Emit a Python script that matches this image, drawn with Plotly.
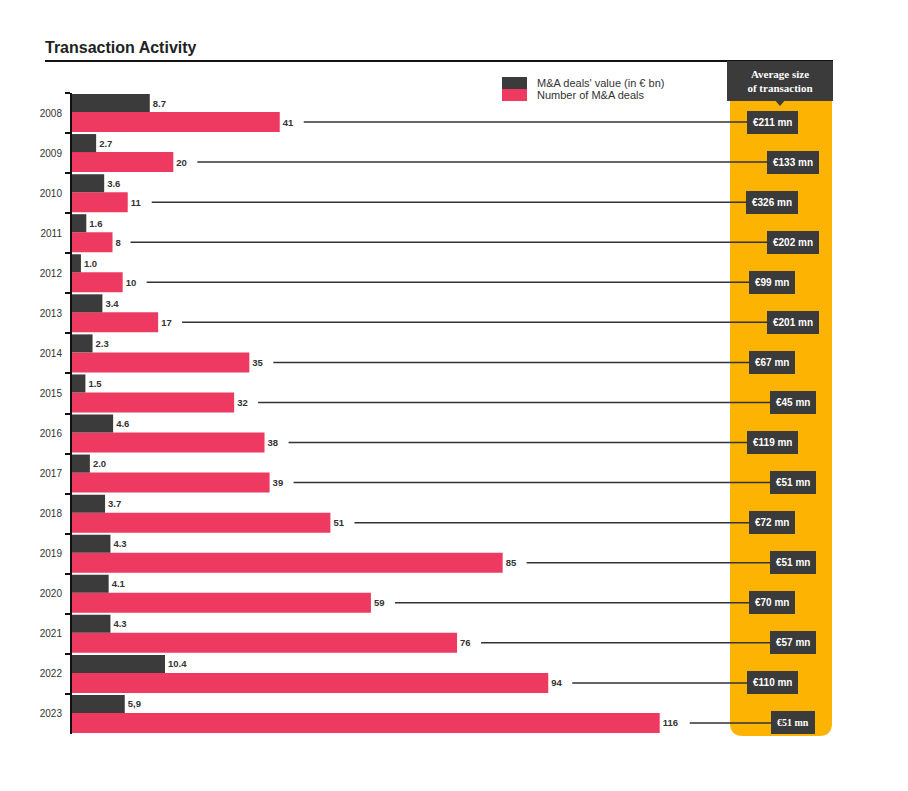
import plotly.graph_objects as go

years = [str(y) for y in range(2008, 2024)]
deal_value = [8.7, 2.7, 3.6, 1.6, 1.0, 3.4, 2.3, 1.5, 4.6, 2.0, 3.7, 4.3, 4.1, 4.3, 10.4, 5.9]
value_labels = ["8.7", "2.7", "3.6", "1.6", "1.0", "3.4", "2.3", "1.5",
                "4.6", "2.0", "3.7", "4.3", "4.1", "4.3", "10.4", "5,9"]
deal_count = [41, 20, 11, 8, 10, 17, 35, 32, 38, 39, 51, 85, 59, 76, 94, 116]
avg_size = ["€211 mn", "€133 mn", "€326 mn", "€202 mn", "€99 mn", "€201 mn",
            "€67 mn", "€45 mn", "€119 mn", "€51 mn", "€72 mn", "€51 mn",
            "€70 mn", "€57 mn", "€110 mn", "€51 mn"]

DARK = "#3b3b3b"
PINK = "#ee3a60"
ORANGE = "#fdb302"
TC = "#333333"

# page has an 8px body margin, so work in page pixels and shift
OFF = 8
W, H = 900, 783
L, T = 72 - OFF, 93 - OFF
R, B = W - (832 - OFF), H - (734 - OFF)
PW, PH = W - L - R, H - T - B
COUNT_MAX = 150
VALUE_MAX = 85


def px(x):
    return (x - OFF - L) / PW


def py(y):
    return (H - B - (y - OFF)) / PH


fig = go.Figure()

fig.add_trace(go.Bar(
    y=years, x=deal_value, orientation="h", xaxis="x2",
    name="M&A deals' value (in € bn)",
    width=0.45, offset=-0.475,
    marker=dict(color=DARK, line_width=0),
    text=value_labels, textposition="outside", cliponaxis=False,
    textfont=dict(size=9.5, color=TC, family="Liberation Sans", weight="bold"),
    showlegend=False,
))

fig.add_trace(go.Bar(
    y=years, x=deal_count, orientation="h",
    name="Number of M&A deals",
    width=0.5, offset=-0.025,
    marker=dict(color=PINK, line_width=0),
    text=[str(c) for c in deal_count], textposition="outside", cliponaxis=False,
    textfont=dict(size=9.5, color=TC, family="Liberation Sans", weight="bold"),
    showlegend=False,
))

# orange column behind the badges, rounded at the bottom
x0, x1 = px(730), px(832)
yt, yb = py(100), py(736)
rx, ry = 13 / PW, 13 / PH
fig.add_shape(
    type="path", xref="paper", yref="paper", layer="below",
    path=(f"M {x0},{yt} L {x1},{yt} L {x1},{yb + ry} Q {x1},{yb} {x1 - rx},{yb} "
          f"L {x0 + rx},{yb} Q {x0},{yb} {x0},{yb + ry} Z"),
    fillcolor=ORANGE, line_width=0,
)

# connector lines + average size badges
for i, (c, s) in enumerate(zip(deal_count, avg_size)):
    cx = 772 if i % 2 == 0 else 793
    fig.add_annotation(
        x=c, y=i + 0.225, xref="x", yref="y",
        ax=px(cx) * COUNT_MAX, ay=i + 0.225, axref="x", ayref="y",
        text=f"<b>{s}</b>", showarrow=True,
        arrowhead=0, arrowwidth=1.5, arrowcolor=TC,
        standoff=12 + 6 * len(str(c)),
        bgcolor=DARK, bordercolor=DARK, borderpad=5,
        font=dict(color="white", size=10,
                  family="Liberation Serif" if i == len(avg_size) - 1 else "Liberation Sans"),
    )

# column header
fig.add_annotation(
    x=px(780), y=py(81), xref="paper", yref="paper",
    xanchor="center", yanchor="middle",
    text="<b>Average size<br>of transaction</b>", showarrow=False,
    width=98, height=32, borderpad=3,
    bgcolor=DARK, bordercolor=DARK,
    font=dict(color="white", size=11, family="Liberation Serif"),
)
fig.add_shape(
    type="path", xref="paper", yref="paper",
    path=f"M {px(774)},{py(99)} L {px(786)},{py(99)} L {px(780)},{py(106)} Z",
    fillcolor=DARK, line_width=0,
)

# title rule
fig.add_shape(type="line", xref="paper", yref="paper",
              x0=px(45), x1=px(833), y0=py(61), y1=py(61),
              line=dict(color="#111111", width=2))

# legend
fig.add_shape(type="rect", xref="paper", yref="paper",
              x0=px(502), x1=px(527), y0=py(89), y1=py(77),
              fillcolor=DARK, line_width=0)
fig.add_shape(type="rect", xref="paper", yref="paper",
              x0=px(502), x1=px(527), y0=py(101), y1=py(89),
              fillcolor=PINK, line_width=0)
for txt, yy in [("M&A deals' value (in € bn)", 83), ("Number of M&A deals", 95)]:
    fig.add_annotation(x=px(535), y=py(yy), xref="paper", yref="paper",
                       text=txt, showarrow=False, xanchor="left", yanchor="middle",
                       font=dict(size=11, color=TC))

fig.update_layout(
    title=dict(text="<b>Transaction Activity</b>", x=(45 - OFF) / W, xanchor="left",
               y=1 - (47 - OFF) / H, yanchor="middle",
               font=dict(size=16, color="#222222")),
    width=W, height=H,
    margin=dict(l=L, r=R, t=T, b=B),
    barmode="overlay",
    plot_bgcolor="white", paper_bgcolor="white",
    font=dict(family="Liberation Sans, Arial", color=TC),
    xaxis=dict(range=[0, COUNT_MAX], visible=False),
    xaxis2=dict(range=[0, VALUE_MAX], overlaying="x", visible=False),
    yaxis=dict(
        type="category", range=[15.5, -0.5],
        tickson="boundaries", ticks="outside", ticklen=5, tickwidth=2, tickcolor="#111111",
        showline=True, linecolor="#111111", linewidth=2,
        showgrid=False, zeroline=False, ticklabelstandoff=6,
        tickfont=dict(size=10, color=TC),
    ),
    showlegend=False,
)

fig.write_html("out.html")
